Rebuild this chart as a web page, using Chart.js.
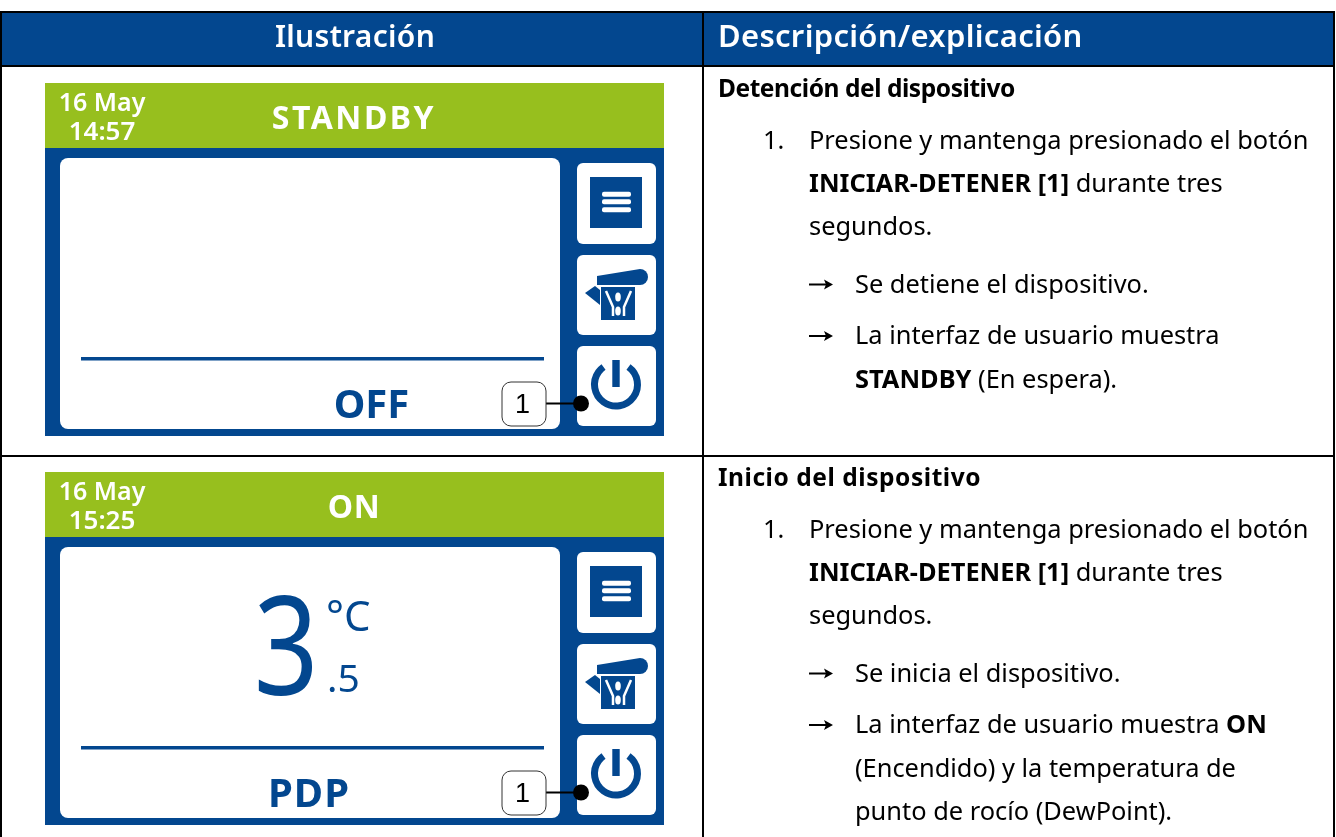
<!DOCTYPE html>
<html lang="es">
<head>
<meta charset="utf-8">
<title>Ilustración</title>
<script src="https://cdn.jsdelivr.net/npm/chart.js@4"></script>
<style>
  html, body { margin: 0; background: #fff; overflow: hidden; }
  canvas { display: block; }
</style>
</head>
<body>
<canvas id="panelChart" width="1336" height="837"></canvas>
<script>
// --- Values ---
const tableHeaders = ["Ilustración", "Descripción/explicación"];
const panelDates = ["16 May", "16 May"];
const panelTimes = ["14:57", "15:25"];
const panelStates = ["STANDBY", "ON"];
const panelReadouts = ["OFF", "PDP"];
const panelTempWhole = [null, "3"];
const panelTempDecimal = [null, ".5"];
const panelTempUnit = [null, "°C"];
const calloutLabels = ["1", "1"];
const rowTitles = ["Detención del dispositivo", "Inicio del dispositivo"];
const stepLines = [
  [[["Presione y mantenga presionado el botón", 0]], [["INICIAR-DETENER [1]", 1], [" durante tres", 0]], [["segundos.", 0]]],
  [[["Presione y mantenga presionado el botón", 0]], [["INICIAR-DETENER [1]", 1], [" durante tres", 0]], [["segundos.", 0]]],
];
const resultLines = [
  [[[["Se detiene el dispositivo.", 0]]], [[["La interfaz de usuario muestra", 0]], [["STANDBY", 1], [" (En espera).", 0]]]],
  [[[["Se inicia el dispositivo.", 0]]], [[["La interfaz de usuario muestra ", 0], ["ON", 1]], [["(Encendido) y la temperatura de", 0]], [["punto de rocío (DewPoint).", 0]]]],
];

const BLUE = "#03478f";
const GREEN = "#97bf1e";
const FONT = "'Noto Sans', Lato, sans-serif";

// Draws text on a baseline, with optional letter spacing
const text = (ctx, str, x, y, font, color, align = "left", spacing = 0) => {
  ctx.font = font;
  ctx.fillStyle = color;
  ctx.textAlign = align;
  ctx.textBaseline = "alphabetic";
  ctx.letterSpacing = spacing + "px";
  ctx.fillText(str, x, y);
  ctx.letterSpacing = "0px";
};

const roundBox = (ctx, x, y, w, h, r, color) => {
  ctx.fillStyle = color;
  ctx.beginPath();
  ctx.roundRect(x, y, w, h, r);
  ctx.fill();
};

const polygon = (ctx, pts, color) => {
  ctx.fillStyle = color;
  ctx.beginPath();
  pts.forEach((p, i) => (i ? ctx.lineTo(p[0], p[1]) : ctx.moveTo(p[0], p[1])));
  ctx.closePath();
  ctx.fill();
};

const polyline = (ctx, pts, color, width) => {
  ctx.strokeStyle = color;
  ctx.lineWidth = width;
  ctx.beginPath();
  pts.forEach((p, i) => (i ? ctx.lineTo(p[0], p[1]) : ctx.moveTo(p[0], p[1])));
  ctx.stroke();
};

const drawTable = (ctx) => {
  ctx.fillStyle = BLUE;
  ctx.fillRect(0, 12, 1335, 54);
  ctx.fillStyle = "#000";
  ctx.fillRect(0, 11, 1335, 2);
  ctx.fillRect(0, 65, 1335, 2);
  ctx.fillRect(0, 455, 1335, 2);
  ctx.fillRect(0, 11, 2, 826);
  ctx.fillRect(702, 11, 2, 826);
  ctx.fillRect(1333, 11, 2, 826);
  text(ctx, tableHeaders[0], 355, 47, `600 30px ${FONT}`, "#fff", "center", 0.3);
  text(ctx, tableHeaders[1], 718, 47, `600 31px ${FONT}`, "#fff", "left", 0.3);
};

// One line made of regular and bold runs
const drawRuns = (ctx, runs, x, y) => {
  let cx = x;
  runs.forEach(([str, bold]) => {
    const font = `${bold ? 700 : 400} 25.4px ${FONT}`;
    text(ctx, str, cx, y, font, "#000");
    cx += ctx.measureText(str).width;
  });
};

const drawArrow = (ctx, x, y) => {
  polyline(ctx, [[x, y], [x + 18, y]], "#000", 2);
  polygon(ctx, [[x + 24, y], [x + 15, y - 5], [x + 17, y], [x + 15, y + 5]], "#000");
};

const drawDescription = (ctx, i, dy) => {
  text(ctx, rowTitles[i], 718, 97 + dy, `700 24.5px ${FONT}`, "#000", "left", i ? 0.55 : -0.44);
  text(ctx, "1.", 763, 149 + dy, `400 25.4px ${FONT}`, "#000");
  stepLines[i].forEach((runs, n) => drawRuns(ctx, runs, 809, 149 + dy + n * 43));
  const starts = [292.5, 344];
  resultLines[i].forEach((group, g) => {
    const y0 = starts[g] + dy;
    drawArrow(ctx, 809, y0 - 8);
    group.forEach((runs, n) => drawRuns(ctx, runs, 855, y0 + n * 43.5));
  });
};

const drawPanel = (ctx, i, dy) => {
  ctx.save();
  ctx.translate(0, dy);
  ctx.fillStyle = BLUE;
  ctx.fillRect(45, 148, 619, 288);
  ctx.fillStyle = GREEN;
  ctx.fillRect(45, 83, 619, 65);
  roundBox(ctx, 60, 158, 500, 271, 8, "#fff");

  text(ctx, panelDates[i], 102, 111, `600 25px ${FONT}`, "#fff", "center");
  text(ctx, panelTimes[i], 102, 140, `600 26px ${FONT}`, "#fff", "center");
  text(ctx, panelStates[i], 354, 128.5, `700 32px ${FONT}`, "#fff", "center", i ? 0.5 : 2.5);

  ctx.fillStyle = BLUE;
  ctx.fillRect(81, 357, 463, 3.5);
  text(ctx, panelReadouts[i], i ? 309 : 371.5, 418, `700 40px ${FONT}`, BLUE, "center", i ? 1 : 0);

  if (panelTempWhole[i] !== null) {
    // the big digit is narrower than Noto Sans, squeeze it
    ctx.save();
    ctx.translate(286, 0);
    ctx.scale(0.82, 1);
    text(ctx, panelTempWhole[i], 0, 306, `400 138px ${FONT}`, BLUE, "center");
    ctx.restore();
    text(ctx, panelTempUnit[i], 326, 241.5, `400 42px ${FONT}`, BLUE);
    text(ctx, panelTempDecimal[i], 327, 302.5, `400 39px ${FONT}`, BLUE);
  }

  // Side buttons
  roundBox(ctx, 577, 163, 79, 81, 6, "#fff");
  roundBox(ctx, 577, 255, 79, 80, 6, "#fff");
  roundBox(ctx, 577, 346, 79, 80, 6, "#fff");

  // Menu icon
  ctx.fillStyle = BLUE;
  ctx.fillRect(590, 177, 52, 51);
  [191.7, 199.3, 207.3].forEach((y) => roundBox(ctx, 602, y, 29, 5, 2, "#fff"));

  // Compressor icon
  ctx.fillStyle = BLUE;
  ctx.beginPath();
  ctx.moveTo(597, 276);
  ctx.lineTo(640, 269);
  ctx.arc(640, 277, 8, -Math.PI / 2, Math.PI / 2);
  ctx.lineTo(597, 285);
  ctx.closePath();
  ctx.fill();
  ctx.fillRect(601, 287, 34, 33);
  polygon(ctx, [[585, 293], [595, 286], [600, 290], [600, 305]], BLUE);
  polyline(ctx, [[606, 291], [613, 307], [613, 316]], "#fff", 2.5);
  polyline(ctx, [[631, 291], [624, 307], [624, 316]], "#fff", 2.5);
  [[618, 297], [618, 311]].forEach(([x, y]) => {
    ctx.fillStyle = "#fff";
    ctx.beginPath();
    ctx.ellipse(x, y, 2.8, 4.5, 0, 0, Math.PI * 2);
    ctx.fill();
  });

  // Power icon
  ctx.strokeStyle = BLUE;
  ctx.lineWidth = 7;
  ctx.beginPath();
  ctx.arc(616, 384.5, 21.5, -Math.PI / 2 + 0.62, -Math.PI / 2 - 0.62);
  ctx.stroke();
  ctx.fillStyle = BLUE;
  ctx.fillRect(612.3, 360, 7.4, 27);

  // Callout
  polyline(ctx, [[546, 403.5], [581, 403.5]], "#000", 2);
  ctx.fillStyle = "#000";
  ctx.beginPath();
  ctx.arc(581, 403.5, 8, 0, Math.PI * 2);
  ctx.fill();
  ctx.fillStyle = "#fff";
  ctx.strokeStyle = "#333";
  ctx.lineWidth = 1;
  ctx.beginPath();
  ctx.roundRect(502, 382, 44, 44, 9);
  ctx.fill();
  ctx.stroke();
  text(ctx, calloutLabels[i], 522.5, 413, "400 27px 'Liberation Sans'", "#000", "center");
  ctx.restore();
};

const tablePlugin = {
  id: "tablePlugin",
  afterDraw(chart) {
    const ctx = chart.ctx;
    ctx.save();
    drawTable(ctx);
    panelStates.forEach((_, i) => {
      const dy = i * 389;
      drawPanel(ctx, i, dy);
      drawDescription(ctx, i, dy);
    });
    ctx.restore();
  },
};

new Chart(document.getElementById("panelChart").getContext("2d"), {
  type: "bar",
  data: { labels: panelStates, datasets: [{ data: [] }] },
  options: {
    responsive: false,
    animation: false,
    layout: { padding: 0 },
    plugins: { legend: { display: false }, tooltip: { enabled: false } },
    scales: { x: { display: false }, y: { display: false } },
  },
  plugins: [tablePlugin],
});
</script>
</body>
</html>
